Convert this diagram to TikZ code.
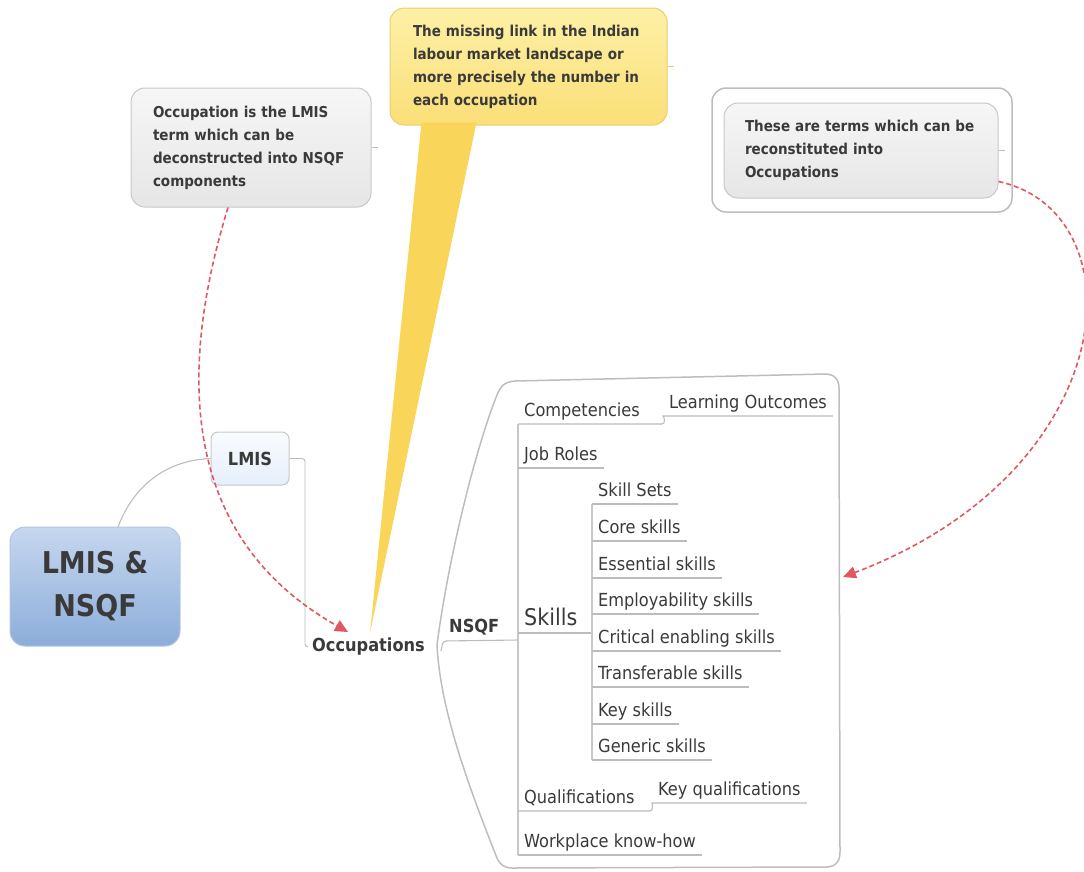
\documentclass[tikz,border=0pt]{standalone}
\usepackage{fontspec}
\setmainfont{DejaVu Sans Condensed}
\usetikzlibrary{arrows.meta,calc}
\definecolor{txtc}{HTML}{3A3A3A}
\definecolor{linec}{HTML}{BCBCBC}
\definecolor{spinec}{HTML}{C8C8C8}
\definecolor{bndc}{HTML}{BDBDBD}
\definecolor{redc}{HTML}{E0575F}
\definecolor{boxb}{HTML}{C8C8C8}
\definecolor{graytop}{HTML}{F6F6F6}
\definecolor{graybot}{HTML}{E6E6E6}
\definecolor{yeltop}{HTML}{FDF0A6}
\definecolor{yelbot}{HTML}{FBDF78}
\definecolor{yelb}{HTML}{E9CF72}
\definecolor{tailc}{HTML}{F9D65A}
\definecolor{bluetop}{HTML}{C6D7EF}
\definecolor{bluebot}{HTML}{8CADDA}
\definecolor{blueb}{HTML}{B3C6E0}
\definecolor{ltop}{HTML}{F9FBFF}
\definecolor{lbot}{HTML}{E5EFFB}
\begin{document}
\begin{tikzpicture}[x=1pt,y=-1pt,
  conn/.style={draw=linec, line width=1.1pt},
  spine/.style={draw=spinec, line width=1.1pt},
  childnode/.style={anchor=south west, inner xsep=6pt, inner ysep=3pt, text height=13pt, text depth=4pt, font=\fontsize{18}{20}\selectfont, text=txtc},
  redarrow/.style={draw=redc, line width=1.6pt, dash pattern=on 5pt off 3pt, -{Triangle[length=13pt,width=12pt,fill=redc]}},
  callout/.style={rounded corners=14pt, draw=boxb, line width=1pt, top color=graytop, bottom color=graybot, font=\bfseries\fontsize{15}{23}\selectfont, align=left, text=txtc, inner ysep=0pt}
]
\useasboundingbox (0,0) rectangle (1084,871);

% ---- central topic
\node[rounded corners=15pt, draw=blueb, line width=1pt, top color=bluetop, bottom color=bluebot,
  minimum width=170pt, minimum height=119pt, align=center, text=txtc,
  font=\bfseries\fontsize{30}{43}\selectfont] (cb) at (95,586.5) {LMIS \&\\NSQF};

% ---- LMIS
\node[rounded corners=7pt, draw=boxb, line width=1pt, top color=ltop, bottom color=lbot,
  minimum width=78pt, minimum height=53pt, text=txtc, font=\bfseries\fontsize{18}{20}\selectfont] (lmis) at (250,458.5) {LMIS};
\coordinate (cbtop) at (118,527);
\draw[conn] (cbtop) .. controls (135,482) and (170,460) .. (lmis.west);

% ---- Occupations
\node[anchor=west, inner xsep=4pt, text=txtc, font=\bfseries\fontsize{18}{20}\selectfont] (occ) at (308,647) {Occupations};
\draw[conn, line width=0.9pt, rounded corners=3pt] (lmis.east) -- (305,458.5) -- (305,647) -- (occ.west);

% ---- NSQF boundary
\draw[draw=bndc, line width=1.5pt]
  (437,645) .. controls (448,560) and (475,450) .. (497,395)
  .. controls (501,385) and (505,382) .. (515,381) -- (825,374)
  .. controls (834,374) and (839,379) .. (839,388) -- (840,852)
  .. controls (840,862) and (835,867) .. (826,867) -- (512,868)
  .. controls (505,868) and (500,865) .. (497,858)
  .. controls (470,790) and (440,710) .. (437,645) -- cycle;

% ---- NSQF node
\node[childnode, font=\bfseries\fontsize{18}{20}\selectfont] (nsqf) at (443,640) {NSQF};
\coordinate (hook) at (441,651);
\draw[conn, rounded corners=3pt] (hook) -- (443,641) -- (518,640);

% ---- NSQF children
\node[childnode] (comp) at (518,424) {Competencies};
\node[childnode] (lo) at (663,416) {Learning Outcomes};
\node[childnode] (job) at (518,468) {Job Roles};
\node[childnode, font=\fontsize{23}{25}\selectfont, text height=16pt] (skills) at (518,633) {Skills};
\node[childnode] (qual) at (518,811) {Qualifications};
\node[childnode] (kq) at (652,803) {Key qualifications};
\node[childnode] (work) at (518,855) {Workplace know-how};

\draw[spine] (comp.south west) -- (work.south west);
\coordinate (compend) at (662,424);
\draw[conn] (comp.south west) -- (compend) .. controls (666,424) and (664,416) .. (lo.south west) -- (lo.south east);
\draw[conn] (job.south west) -- (job.south east);
\draw[conn] (skills.south west) -- (592,633);
\coordinate (qualend) at (650,811);
\draw[conn] (qual.south west) -- (qualend) .. controls (654,811) and (652,803) .. (kq.south west) -- (kq.south east);
\draw[conn] (work.south west) -- (work.south east);

% ---- Skills children
\node[childnode] (s1) at (592,504) {Skill Sets};
\node[childnode] (s2) at (592,541) {Core skills};
\node[childnode] (s3) at (592,578) {Essential skills};
\node[childnode] (s4) at (592,614) {Employability skills};
\node[childnode] (s5) at (592,651) {Critical enabling skills};
\node[childnode] (s6) at (592,687) {Transferable skills};
\node[childnode] (s7) at (592,724) {Key skills};
\node[childnode] (s8) at (592,760) {Generic skills};
\draw[spine] (s1.south west) -- (s8.south west);
\foreach \n in {s1,s2,s3,s4,s5,s6,s7,s8}
  \draw[conn] (\n.south west) -- (\n.south east);

% ---- callout 1
\node[callout, text width=196pt, inner xsep=22pt, minimum height=119pt] (note1) at (251,147.5)
  {Occupation is the LMIS\\term which can be\\deconstructed into NSQF\\components};
\draw[draw=linec, line width=0.8pt] (note1.east) -- ++(6,0);

% ---- callout 2 (yellow)
\node[callout, draw=yelb, top color=yeltop, bottom color=yelbot, text width=231pt, inner xsep=23pt, minimum height=117pt] (note2) at (528.5,66.5)
  {The missing link in the Indian\\labour market landscape or\\more precisely the number in\\each occupation};
\fill[tailc] ($(note2.south west)+(32,-3)$) -- (370,633) -- ($(note2.south west)+(87,-3)$) -- cycle;
\draw[draw=yelb, line width=0.8pt] (note2.east) -- ++(6,0);

% ---- callout 3
\node[rounded corners=14pt, draw=bndc, line width=1.5pt, fill=white, minimum width=300pt, minimum height=124pt] (note3o) at (862,150) {};
\node[callout, text width=232pt, inner xsep=21pt, minimum height=95pt] (note3) at (861,150.5)
  {These are terms which can be\\reconstituted into\\Occupations};
\draw[draw=linec, line width=0.8pt] (note3.east) -- ++(6,0);

% ---- red dashed arrows
\coordinate (arr1end) at (348,632);
\draw[redarrow] ([xshift=-23pt]note1.south) .. controls (175,380) and (185,540) .. (arr1end);
\coordinate (arr2end) at (843,577);
\draw[redarrow] ([yshift=-31pt]note3.east) .. controls (1140,212) and (1125,470) .. (arr2end);
\end{tikzpicture}
\end{document}
